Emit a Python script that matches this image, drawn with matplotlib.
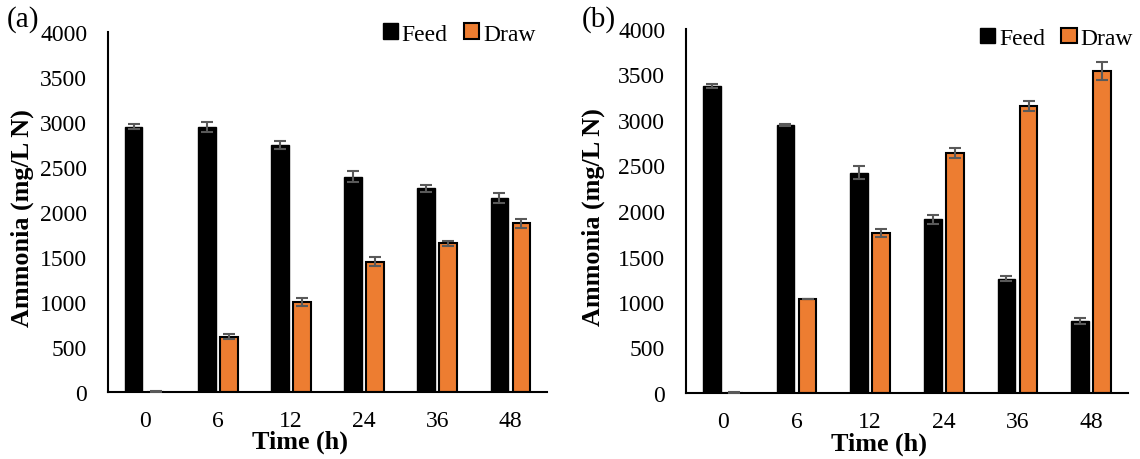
import matplotlib
matplotlib.use("Agg")
import matplotlib.pyplot as plt
import numpy as np

times = ["0", "6", "12", "24", "36", "48"]

feed_a = [2948, 2941, 2744, 2392, 2263, 2156]
feed_a_err = [30, 55, 45, 60, 40, 55]
draw_a = [5, 614, 1003, 1448, 1652, 1874]
draw_a_err = [3, 25, 45, 50, 30, 50]

feed_b = [3375, 2945, 2420, 1910, 1256, 792]
feed_b_err = [25, 8, 70, 50, 25, 30]
draw_b = [5, 1033, 1760, 2635, 3154, 3541]
draw_b_err = [3, 5, 45, 55, 50, 100]

y_ticks = [0, 500, 1000, 1500, 2000, 2500, 3000, 3500, 4000]

plt.rcParams['font.family'] = ['Liberation Serif', 'DejaVu Serif']

W, H = 1140, 460
fig = plt.figure(figsize=(W / 100, H / 100), dpi=100)
ax1 = fig.add_axes([108 / W, 1 - 393 / H, 439 / W, 360 / H])
ax2 = fig.add_axes([686 / W, 1 - 394 / H, 442 / W, 364 / H])

FS = 17
LFS = 18.8
ORANGE = '#ED7D31'
ERRC = '#595959'

def draw_panel(ax, feed, feed_err, draw, draw_err, label, label_x,
               legend_anchor, ylab_x):
    x = np.arange(len(times))
    w = 0.24
    off = 0.15
    ax.bar(x - off, feed, w, color='black', edgecolor='black', linewidth=1.0,
           label='Feed', zorder=2)
    ax.bar(x + off, draw, w, color=ORANGE, edgecolor='black', linewidth=1.5,
           label='Draw', zorder=2)
    ax.errorbar(x - off, feed, yerr=feed_err, fmt='none', ecolor=ERRC,
                elinewidth=1.5, capsize=4.5, capthick=1.5, zorder=3)
    ax.errorbar(x + off, draw, yerr=draw_err, fmt='none', ecolor=ERRC,
                elinewidth=1.5, capsize=4.5, capthick=1.5, zorder=3)
    ax.set_xlim(-0.5, len(times) - 0.5)
    ax.set_ylim(0, 4000)
    ax.set_yticks(y_ticks)
    ax.set_yticklabels([str(v) for v in y_ticks], fontsize=FS)
    ax.set_xticks(x)
    ax.set_xticklabels(times, fontsize=FS)
    ax.tick_params(axis='y', length=0, pad=15)
    ax.tick_params(axis='x', length=0, pad=13)
    for s in ['top', 'right']:
        ax.spines[s].set_visible(False)
    for s in ['left', 'bottom']:
        ax.spines[s].set_linewidth(1.5)
        ax.spines[s].set_color('black')
    ax.set_ylabel('Ammonia (mg/L N)', fontsize=LFS, fontweight='bold')
    ax.yaxis.set_label_coords(ylab_x, 0.486)
    ax.set_xlabel('Time (h)', fontsize=LFS, fontweight='bold')
    ax.xaxis.set_label_coords(0.437, -0.105)
    ax.legend(loc='upper right', bbox_to_anchor=legend_anchor, ncol=2,
              frameon=False, fontsize=FS, handlelength=0.65,
              handleheight=0.65, handletextpad=0.15, columnspacing=0.7,
              borderaxespad=0)
    fig.text(label_x, 1 - 20 / H, label, fontsize=21, ha='left', va='center')

draw_panel(ax1, feed_a, feed_a_err, draw_a, draw_a_err, '(a)', 7 / W,
           (0.995, 1.05), -74 / 439)
draw_panel(ax2, feed_b, feed_b_err, draw_b, draw_b_err, '(b)', 582 / W,
           (1.032, 1.03), -81 / 442)

fig.savefig('out.png', dpi=100)
